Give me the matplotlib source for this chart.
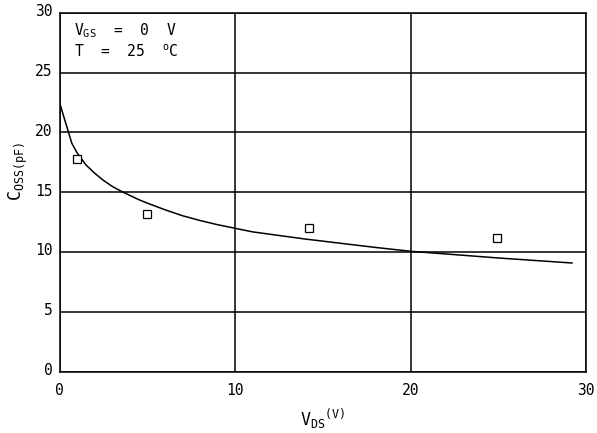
import matplotlib
matplotlib.use("Agg")
import matplotlib.pyplot as plt
from matplotlib.transforms import ScaledTranslation

# Curve data (V_DS in V, C_oss in pF)
curve_vds = [0.0, 0.7, 1.0, 1.5, 2.0, 2.5, 3.0, 3.5, 4.0, 4.5, 5.0, 6.0, 7.0, 8.0,
             9.0, 10.0, 11.0, 12.5, 14.0, 16.0, 18.0, 20.0, 22.5, 25.0, 27.0, 29.2]
curve_coss = [22.5, 19.1, 18.3, 17.3, 16.6, 16.0, 15.5, 15.1, 14.75, 14.4, 14.1, 13.55,
              13.05, 12.65, 12.3, 12.0, 11.7, 11.4, 11.1, 10.75, 10.4, 10.08, 9.8, 9.52,
              9.32, 9.1]

# Measured points
meas_vds = [1.0, 5.0, 14.2, 24.9]
meas_coss = [17.8, 13.2, 12.0, 11.2]

xticks = [0, 10, 20, 30]
yticks = [0, 5, 10, 15, 20, 25, 30]

FONT = "DejaVu Sans Mono"
plt.rcParams["font.family"] = [FONT]
plt.rcParams["mathtext.fontset"] = "custom"
plt.rcParams["mathtext.rm"] = FONT
plt.rcParams["mathtext.it"] = FONT

fig = plt.figure(figsize=(5.97, 4.33), dpi=100)
ax = fig.add_axes([0.0997, 0.1409, 0.8819, 0.8298])

ax.plot(curve_vds, curve_coss, color="black", lw=1.1)
ax.plot(meas_vds, meas_coss, linestyle="none", marker="s", markersize=6,
        markerfacecolor="white", markeredgecolor="black", markeredgewidth=0.9)

ax.set_xlim(0, 30)
ax.set_ylim(0, 30)
ax.set_xticks(xticks)
ax.set_yticks(yticks)
ax.set_xticklabels([str(t) for t in xticks])
ax.set_yticklabels([str(t) for t in yticks])
ax.tick_params(length=0, labelsize=10.5)
ax.tick_params(axis="x", pad=8)
ax.tick_params(axis="y", pad=5)
off = ScaledTranslation(0, 2 / 72, fig.dpi_scale_trans)
for lab in ax.get_yticklabels():
    lab.set_transform(lab.get_transform() + off)
ax.grid(True, color="black", lw=1.1)
ax.set_axisbelow(True)
for s in ax.spines.values():
    s.set_linewidth(1.1)

ax.set_xlabel(r"$\mathregular{V_{DS}}$$\mathregular{^{(V)}}$", fontsize=12, labelpad=6)
ax.set_ylabel(r"$\mathregular{C_{OSS(pF)}}$", fontsize=12)
ax.yaxis.set_label_coords(-0.056, 0.557)

ax.text(0.028, 0.975, r"$\mathregular{V_{GS}}$  =  0  V", transform=ax.transAxes,
        fontsize=10.5, va="top", ha="left")
ax.text(0.028, 0.915, r"T  =  25  $\mathregular{^{o}}$C", transform=ax.transAxes,
        fontsize=10.5, va="top", ha="left")

fig.savefig("out.png", dpi=100)
